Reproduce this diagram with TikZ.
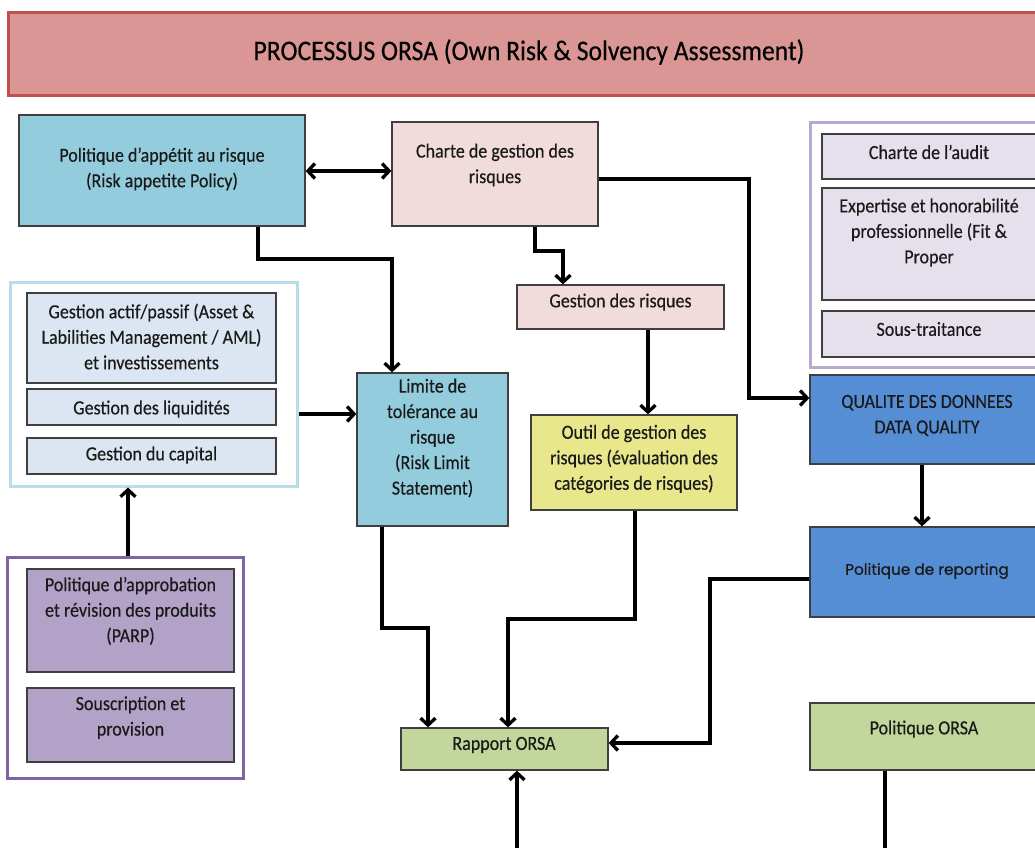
\documentclass[tikz,border=0pt]{standalone}
\usepackage{fontspec}
\setmainfont{Carlito}[FakeStretch=0.9,FakeBold=0.35]
\newfontfamily\geofont{Poppins}[FakeBold=0.8]
\usetikzlibrary{arrows.meta,fit}
\definecolor{titlefill}{HTML}{D99694}
\definecolor{titleline}{HTML}{C0504D}
\definecolor{bluefill}{HTML}{93CDDD}
\definecolor{pinkfill}{HTML}{F2DCDB}
\definecolor{yelfill}{HTML}{E8E78C}
\definecolor{dkblue}{HTML}{558ED5}
\definecolor{greenfill}{HTML}{C3D69B}
\definecolor{lavfill}{HTML}{E6E0EC}
\definecolor{lavline}{HTML}{B9A9CF}
\definecolor{almfill}{HTML}{DCE6F2}
\definecolor{almline}{HTML}{B7DEE8}
\definecolor{purfill}{HTML}{B3A2C7}
\definecolor{purline}{HTML}{8064A2}
\definecolor{boxline}{HTML}{3F3F3F}
\definecolor{txtc}{HTML}{1A1A1A}
\begin{document}
\begin{tikzpicture}[x=1pt,y=-1pt,
  box/.style={draw=boxline,line width=1.3pt,inner sep=0pt},
  grp/.style={line width=3pt,inner sep=0pt,fill=white},
  txt/.style={align=center,text=txtc,inner sep=0pt,font=\fontsize{20}{25.5}\selectfont},
  arr/.style={line width=3.3pt,-{Straight Barb[length=7pt,width=15pt]}},
  darr/.style={line width=3.3pt,{Straight Barb[length=7pt,width=15pt]}-{Straight Barb[length=7pt,width=15pt]}}]
\useasboundingbox (0,0) rectangle (1035,847);
\fill[white] (0,0) rectangle (1035,847);
% title
\node[fill=titlefill,draw=titleline,line width=3pt,inner sep=0pt,fit={(8,12) (1050,95)}] (title) {};
\node[txt,font=\fontsize{28.5}{30}\selectfont,text=black] (titlet) at (529,52) {PROCESSUS ORSA (Own Risk \& Solvency Assessment)};
% top row
\node[box,fill=bluefill,fit={(19,115) (305,226)}] (pol) {};
\node[txt] (polt) at (162,169) {Politique d’appétit au risque\\(Risk appetite Policy)};
\node[box,fill=pinkfill,fit={(392,122) (598,226)}] (charte) {};
\node[txt] (chartet) at (495,165) {Charte de gestion des\\risques};
% right group
\node[grp,draw=lavline,fit={(810,122) (1048,367)}] (audg) {};
\node[box,fill=lavfill,fit={(822,134) (1036,179)}] (aud) {};
\node[txt] (audt) at (929,152) {Charte de l’audit};
\node[box,fill=lavfill,fit={(822,188) (1036,300)}] (exp) {};
\node[txt] (expt) at (929,232.5) {Expertise et honorabilité\\professionnelle (Fit \&\\Proper};
\node[box,fill=lavfill,fit={(822,311) (1036,357)}] (sous) {};
\node[txt] (soust) at (929,329) {Sous-traitance};
% ALM group
\node[grp,draw=almline,fit={(10,282) (297,486)}] (almg) {};
\node[box,fill=almfill,fit={(27,293) (276,383)}] (alm) {};
\node[txt] (almt) at (151.5,336.5) {Gestion actif/passif (Asset \&\\Labilities Management / AML)\\et investissements};
\node[box,fill=almfill,fit={(27,389) (276,425)}] (liq) {};
\node[txt] (liqt) at (151.5,409) {Gestion des liquidités};
\node[box,fill=almfill,fit={(27,438) (276,474)}] (cap) {};
\node[txt] (capt) at (151.5,455) {Gestion du capital};
% middle
\node[box,fill=bluefill,fit={(357,373) (508,526)}] (lim) {};
\node[txt] (limt) at (432.5,438) {Limite de\\tolérance au\\risque\\(Risk Limit\\Statement)};
\node[box,fill=pinkfill,fit={(517,285) (724,329)}] (gr) {};
\node[txt] (grt) at (620.5,302) {Gestion des risques};
\node[box,fill=yelfill,fit={(531,415) (737,510)}] (outil) {};
\node[txt] (outilt) at (634,459) {Outil de gestion des\\risques (évaluation des\\catégories de risques)};
% right column
\node[box,fill=dkblue,fit={(810,375) (1045,464)}] (qual) {};
\node[txt] (qualt) at (927,415.5) {QUALITE DES DONNEES\\DATA QUALITY};
\node[box,fill=dkblue,fit={(810,527) (1045,617)}] (rep) {};
\node[txt,font=\geofont\fontsize{15.3}{18}\selectfont] (rept) at (927,571) {Politique de reporting};
\node[box,fill=greenfill,fit={(810,703) (1045,770)}] (orsa) {};
\node[txt] (orsat) at (924,729) {Politique ORSA};
\node[box,fill=greenfill,fit={(401,728) (608,770)}] (rap) {};
\node[txt] (rapt) at (504,745) {Rapport ORSA};
% purple group
\node[grp,draw=purline,fit={(7,557) (243,778)}] (purg) {};
\node[box,fill=purfill,fit={(27,569) (234,672)}] (parp) {};
\node[txt] (parpt) at (130.5,611) {Politique d’approbation\\et révision des produits\\(PARP)};
\node[box,fill=purfill,fit={(27,688) (234,762)}] (sousc) {};
\node[txt] (sousct) at (130.5,717.5) {Souscription et\\provision};
% connectors
\draw[darr] (pol.east |- 0,171) -- (charte.west |- 0,171);
\draw[arr] (pol.south -| 258,0) -- (258,259) -- (392,259) -- (lim.north -| 392,0);
\draw[arr] (charte.south -| 535,0) -- (535,251) -- (563,251) -- (gr.north -| 563,0);
\draw[arr] (gr.south -| 648,0) -- (outil.north -| 648,0);
\draw[arr] (charte.east |- 0,179) -- (749,179) -- (749,398) -- (qual.west |- 0,398);
\draw[arr] (qual.south -| 922,0) -- (rep.north -| 922,0);
\draw[arr] (rep.west |- 0,579) -- (710,579) -- (710,743) -- (rap.east |- 0,743);
\draw[arr] (lim.south -| 382,0) -- (382,628) -- (428,628) -- (rap.north -| 428,0);
\draw[arr] (outil.south -| 635,0) -- (635,619) -- (508,619) -- (rap.north -| 508,0);
\draw[arr] (orsa.south -| 885,0) -- (885,851) -- (517,851) -- (rap.south -| 517,0);
\draw[arr] (almg.east |- 0,414) -- (lim.west |- 0,414);
\draw[arr] (purg.north -| 128,0) -- (almg.south -| 128,0);
\end{tikzpicture}
\end{document}
